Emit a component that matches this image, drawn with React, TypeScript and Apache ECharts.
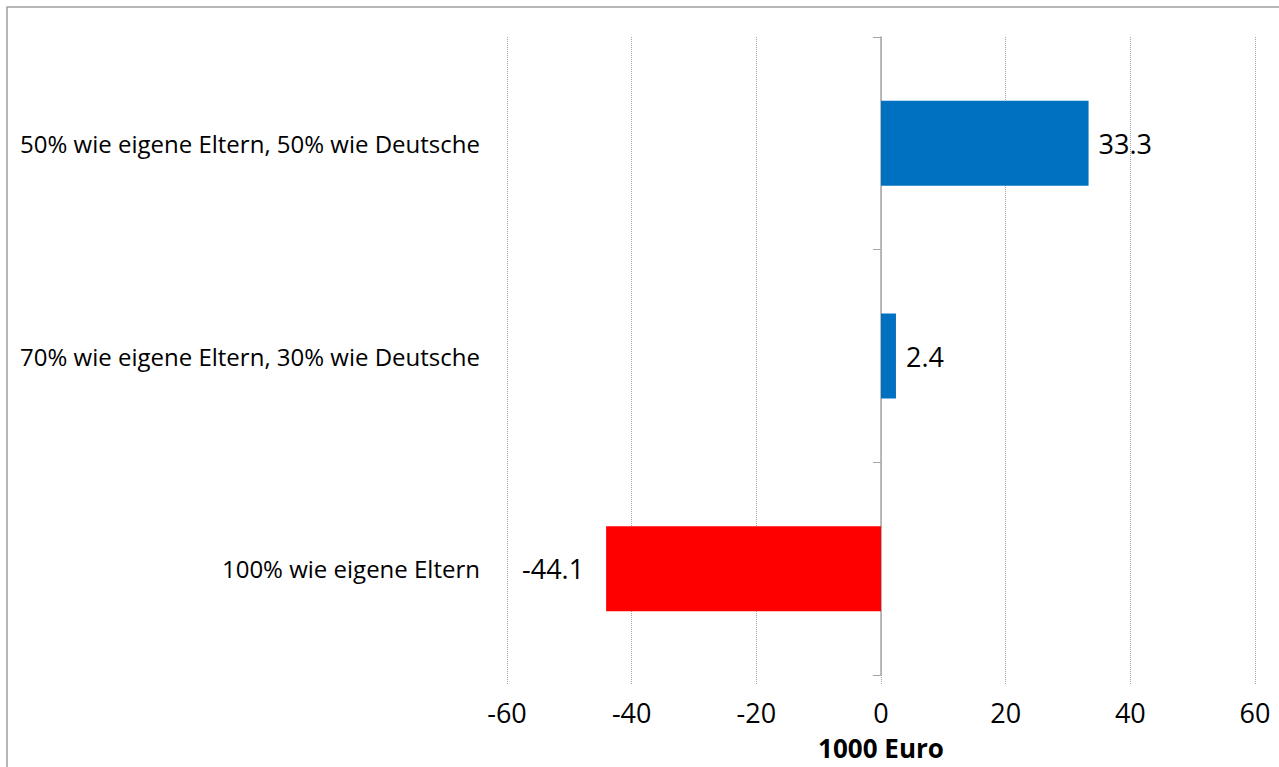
import React, { useEffect, useRef } from "react";
import * as echarts from "echarts";

const categories = [
  "100% wie eigene Eltern",
  "70% wie eigene Eltern, 30% wie Deutsche",
  "50% wie eigene Eltern, 50% wie Deutsche",
];
const values = [-44.1, 2.4, 33.3];
const barColors = ["#FF0000", "#0070C0", "#0070C0"];
const axisName = "1000 Euro";

const FONT = "'Open Sans', sans-serif";

export default function App() {
  const ref = useRef<HTMLDivElement>(null);
  useEffect(() => {
    if (!ref.current) return;
    const chart = echarts.init(ref.current, undefined, { renderer: "svg" });
    chart.setOption({
      animation: false,
      backgroundColor: "#ffffff",
      textStyle: { fontFamily: FONT },
      graphic: [
        {
          type: "rect",
          shape: { x: 7, y: 7, width: 1400, height: 900 },
          style: { fill: "none", stroke: "#A0A0A0", lineWidth: 1.5 },
          silent: true,
        },
      ],
      grid: { left: 507, right: 24, top: 37, bottom: 92 },
      xAxis: {
        type: "value",
        min: -60,
        max: 60,
        interval: 20,
        name: axisName,
        nameLocation: "middle",
        nameGap: 60,
        nameTextStyle: { fontFamily: FONT, fontSize: 26, fontWeight: "bold", color: "#000" },
        axisLine: { onZero: false, lineStyle: { color: "#A6A6A6", type: "dotted", width: 1 } },
        axisTick: { show: true, length: 9, lineStyle: { color: "#A6A6A6", type: "dotted" } },
        axisLabel: { fontFamily: FONT, fontSize: 27, color: "#000", margin: 24 },
        splitLine: { show: true, lineStyle: { color: "#A6A6A6", type: "dotted", width: 1 } },
      },
      yAxis: [
        {
          type: "category",
          data: categories,
          position: "left",
          axisLine: { show: false, onZero: false },
          axisTick: { show: false },
          axisLabel: { fontFamily: FONT, fontSize: 24, color: "#000", margin: 27 },
        },
        {
          type: "category",
          data: categories,
          position: "left",
          axisLine: { show: true, onZero: true, lineStyle: { color: "#A6A6A6", width: 1.5 } },
          axisTick: { show: true, length: 8, lineStyle: { color: "#A6A6A6", width: 1 } },
          axisLabel: { show: false },
        },
      ],
      series: [
        {
          type: "bar",
          yAxisIndex: 0,
          barCategoryGap: "60%",
          data: values.map((v, i) => ({
            value: v,
            itemStyle: { color: barColors[i] },
            label: {
              show: true,
              position: v < 0 ? "left" : "right",
              distance: v < 0 ? 22 : 10,
              formatter: () => v.toFixed(1),
              fontFamily: FONT,
              fontSize: 27,
              color: "#000",
            },
          })),
        },
      ],
    });
    return () => chart.dispose();
  }, []);
  return (
    <div
      ref={ref}
      style={{ position: "fixed", left: 0, top: 0, width: 1279, height: 767 }}
    />
  );
}
